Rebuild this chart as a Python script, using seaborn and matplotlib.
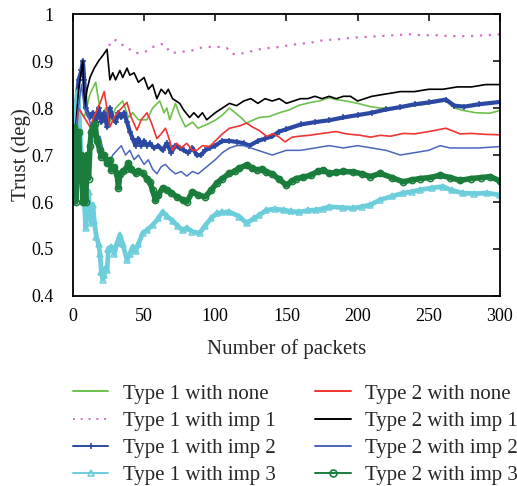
import matplotlib
matplotlib.use("Agg")
import matplotlib.pyplot as plt
from matplotlib.lines import Line2D
import seaborn as sns
import pandas as pd

# ---------------- data ----------------
t1_none = [(0,0.70),(4,0.80),(8,0.78),(12,0.83),(16,0.855),(20,0.78),(23,0.80),(26,0.77),(30,0.80),
           (35,0.815),(39,0.78),(42,0.79),(46,0.775),(52,0.775),(56,0.80),(61,0.815),(64,0.79),(66,0.80),
           (68,0.775),(72,0.81),(75,0.785),(79,0.76),(84,0.77),(88,0.757),(94,0.765),(100,0.774),(105,0.785),
           (110,0.80),(114,0.79),(118,0.78),(122,0.768),(127,0.775),(131,0.78),(138,0.782),(145,0.79),
           (152,0.796),(159,0.806),(167,0.812),(173,0.815),(180,0.822),(185,0.818),(192,0.815),(200,0.81),
           (209,0.803),(216,0.80),(225,0.80),(235,0.803),(245,0.807),(255,0.812),(262,0.815),(268,0.80),
           (274,0.795),(283,0.79),(293,0.789),(300,0.795)]

t1_imp1 = [(25,0.935),(28,0.934),(30,0.945),(33,0.941),(36,0.93),(40,0.925),(43,0.917),(47,0.917),
           (51,0.92),(54,0.928),(58,0.932),(62,0.936),(65,0.935),(68,0.918),(72,0.918),(77,0.92),(83,0.922),
           (89,0.928),(95,0.93),(103,0.93),(108,0.928),(112,0.915),(117,0.915),(124,0.92),(131,0.925),
           (138,0.928),(145,0.93),(152,0.934),(160,0.937),(167,0.939),(173,0.943),(178,0.945),(185,0.946),
           (197,0.95),(210,0.952),(225,0.955),(237,0.957),(245,0.955),(256,0.955),(265,0.953),(279,0.953),
           (290,0.955),(300,0.957)]

t1_imp2 = [(0,0.70),(2,0.80),(4,0.86),(6,0.88),(7,0.90),(8,0.86),(9,0.80),(11,0.785),(12,0.78),(14,0.79),
           (16,0.77),(18,0.80),(20,0.77),(22,0.79),(24,0.76),(26,0.80),(28,0.78),(30,0.77),(32,0.79),
           (34,0.78),(36,0.79),(38,0.77),(40,0.75),(42,0.735),(44,0.72),(46,0.735),(48,0.72),(50,0.73),
           (52,0.72),(54,0.725),(57,0.715),(60,0.72),(63,0.71),(66,0.725),(69,0.705),(72,0.72),(75,0.715),
           (78,0.71),(81,0.705),(84,0.715),(87,0.70),(90,0.70),(93,0.71),(96,0.715),(100,0.72),(105,0.73),
           (110,0.73),(115,0.728),(120,0.725),(124,0.72),(130,0.73),(135,0.735),(140,0.74),(145,0.75),
           (150,0.755),(160,0.765),(170,0.77),(180,0.774),(190,0.78),(200,0.785),(210,0.79),(220,0.797),
           (230,0.802),(240,0.808),(250,0.812),(262,0.818),(268,0.805),(275,0.803),(285,0.808),(300,0.813)]

t1_imp3 = [(0,0.75),(2,0.80),(3.5,0.835),(5,0.75),(6,0.70),(7,0.66),(8,0.60),(9,0.545),(10,0.60),
           (11,0.622),(12,0.57),(13,0.555),(14,0.594),(15,0.56),(16.5,0.526),(18,0.51),(19,0.49),(20,0.45),
           (21,0.435),(22,0.445),(23,0.46),(24,0.455),(25,0.50),(27,0.505),(29,0.49),(31,0.512),(33,0.53),
           (35,0.51),(38,0.477),(40,0.49),(42,0.505),(44,0.495),(46,0.51),(49,0.534),(52,0.54),(56,0.551),
           (60,0.565),(63,0.579),(66,0.57),(70,0.56),(74,0.548),(77,0.54),(80,0.545),(84,0.537),(89,0.534),
           (93,0.55),(97,0.565),(101,0.576),(105,0.578),(110,0.579),(117,0.569),(122,0.555),(127,0.565),
           (131,0.572),(136,0.583),(142,0.585),(148,0.583),(153,0.58),(159,0.579),(165,0.582),(171,0.583),
           (176,0.586),(180,0.59),(190,0.588),(197,0.587),(203,0.59),(209,0.594),(216,0.605),(224,0.612),
           (232,0.619),(238,0.622),(244,0.626),(252,0.63),(260,0.633),(266,0.625),(274,0.619),(282,0.618),
           (291,0.619),(300,0.615)]

t2_none = [(0,0.66),(4,0.80),(8,0.78),(12,0.76),(16,0.79),(19,0.81),(22,0.835),(26,0.76),(29,0.78),
           (33,0.796),(38,0.812),(41,0.78),(45,0.753),(48,0.775),(52,0.79),(55,0.77),(59,0.735),(62,0.745),
           (65,0.757),(67,0.74),(70,0.71),(73,0.725),(76,0.715),(80,0.725),(84,0.71),(87,0.71),(91,0.72),
           (96,0.718),(100,0.73),(105,0.745),(110,0.757),(117,0.762),(122,0.768),(126,0.76),(131,0.752),
           (136,0.74),(141,0.745),(145,0.738),(149,0.728),(154,0.738),(159,0.74),(166,0.742),(173,0.745),
           (180,0.748),(185,0.75),(192,0.745),(202,0.742),(209,0.738),(216,0.742),(223,0.74),(232,0.746),
           (240,0.745),(250,0.75),(262,0.757),(268,0.75),(272,0.745),(280,0.746),(290,0.744),(300,0.743)]

t2_imp1 = [(0,0.66),(2,0.76),(4,0.84),(6,0.88),(7,0.90),(8,0.80),(10,0.84),(12,0.865),(15,0.885),
           (18,0.90),(21,0.912),(24,0.925),(26,0.86),(28,0.875),(30,0.86),(33,0.88),(35,0.865),(38,0.885),
           (40,0.87),(43,0.875),(46,0.855),(50,0.865),(53,0.84),(56,0.85),(59,0.82),(62,0.84),(65,0.83),
           (67,0.84),(70,0.82),(75,0.81),(78,0.795),(82,0.78),(85,0.79),(88,0.78),(91,0.79),(94,0.775),
           (100,0.79),(105,0.80),(110,0.81),(115,0.805),(120,0.815),(125,0.82),(130,0.81),(135,0.82),
           (140,0.815),(145,0.82),(150,0.81),(155,0.815),(160,0.82),(165,0.82),(170,0.825),(175,0.82),
           (180,0.825),(185,0.82),(190,0.825),(195,0.825),(200,0.815),(205,0.82),(210,0.825),(220,0.83),
           (230,0.835),(240,0.835),(250,0.84),(260,0.84),(270,0.845),(280,0.845),(290,0.85),(300,0.85)]

t2_imp2 = [(0,0.70),(3,0.78),(6,0.85),(8,0.80),(10,0.79),(13,0.76),(16,0.73),(19,0.74),(22,0.70),
           (25,0.68),(28,0.70),(31,0.71),(34,0.72),(37,0.70),(40,0.71),(43,0.69),(46,0.70),(50,0.68),
           (53,0.69),(56,0.67),(59,0.66),(62,0.675),(65,0.68),(68,0.67),(72,0.66),(76,0.665),(80,0.655),
           (84,0.665),(88,0.66),(92,0.67),(96,0.68),(100,0.69),(105,0.705),(110,0.715),(115,0.72),
           (120,0.72),(125,0.715),(130,0.71),(135,0.705),(140,0.70),(145,0.705),(150,0.71),(160,0.71),
           (170,0.715),(180,0.72),(190,0.715),(200,0.72),(210,0.715),(220,0.71),(230,0.70),(240,0.705),
           (250,0.71),(258,0.72),(265,0.715),(275,0.715),(285,0.715),(300,0.718)]

t2_imp3 = [(0,0.66),(1,0.76),(2,0.60),(3,0.66),(4,0.75),(5,0.66),(6,0.70),(7,0.60),(8,0.66),(9,0.60),
           (10,0.70),(11,0.65),(12,0.72),(13,0.75),(14,0.76),(15.5,0.765),(17,0.73),(19,0.71),(20,0.696),
           (22,0.70),(24,0.682),(26,0.69),(27,0.668),(29,0.675),(31,0.66),(32,0.63),(33,0.66),(35,0.665),
           (37,0.67),(39,0.682),(41,0.67),(44,0.661),(46,0.665),(49,0.661),(52,0.65),(54,0.643),(56,0.625),
           (58,0.604),(60,0.615),(63,0.63),(66,0.626),(69,0.62),(73,0.611),(77,0.605),(80,0.60),(84,0.622),
           (88,0.615),(93,0.611),(97,0.625),(101,0.64),(105,0.65),(110,0.661),(114,0.666),(117,0.672),
           (122,0.679),(126,0.672),(129,0.668),(133,0.67),(136,0.664),(140,0.66),(145,0.648),(150,0.636),
           (154,0.645),(157,0.65),(162,0.653),(167,0.657),(172,0.665),(176,0.668),(180,0.661),(185,0.663),
           (190,0.665),(197,0.664),(203,0.66),(209,0.654),(216,0.661),(224,0.652),(232,0.643),(238,0.647),
           (244,0.65),(251,0.652),(258,0.657),(265,0.652),(272,0.646),(280,0.65),(287,0.652),(293,0.654),
           (300,0.645)]

labels = ["Type 1 with none", "Type 1 with imp 1", "Type 1 with imp 2", "Type 1 with imp 3",
          "Type 2 with none", "Type 2 with imp 1", "Type 2 with imp 2", "Type 2 with imp 3"]
series = [t1_none, t1_imp1, t1_imp2, t1_imp3, t2_none, t2_imp1, t2_imp2, t2_imp3]
yticks = [0.4, 0.5, 0.6, 0.7, 0.8, 0.9, 1.0]
ytick_labels = ["0.4", "0.5", "0.6", "0.7", "0.8", "0.9", "1"]
xticks = [0, 50, 100, 150, 200, 250, 300]

# ---------------- styles ----------------
styles = [
    dict(color="#6cc24a", lw=1.2, ls="-", marker=None),
    dict(color="#d070c4", lw=1.6, ls=(0, (1, 3)), marker=None),
    dict(color="#2b48a3", lw=3.0, ls="-", marker="+", ms=5, mew=1.1, mfc="#2b48a3"),
    dict(color="#6ccedb", lw=3.4, ls="-", marker="^", ms=5, mew=1.1, mfc="none"),
    dict(color="#f03535", lw=1.2, ls="-", marker=None),
    dict(color="#000000", lw=1.2, ls="-", marker=None),
    dict(color="#4a66bb", lw=1.1, ls="-", marker=None),
    dict(color="#1a7d3c", lw=4.0, ls="-", marker="o", ms=4.5, mew=1.1, mfc="none"),
]

sns.set_theme(style="white")
plt.rcParams["font.family"] = ["Liberation Serif", "DejaVu Serif"]

fig = plt.figure(figsize=(5.17, 4.86), dpi=100)
ax = fig.add_axes([0.141, 0.391, 0.826, 0.580])

for lab, data, st in zip(labels, series, styles):
    df = pd.DataFrame(data, columns=["packets", "trust"])
    kw = dict(color=st["color"], linewidth=st["lw"], linestyle=st["ls"])
    if st["marker"]:
        kw.update(marker=st["marker"], markersize=st["ms"], markeredgewidth=st["mew"],
                  markerfacecolor=st["mfc"], markeredgecolor=st["color"])
    sns.lineplot(data=df, x="packets", y="trust", ax=ax, sort=False, estimator=None,
                 legend=False, **kw)

ax.set_xlim(0, 300)
ax.set_ylim(0.4, 1.0)
ax.set_xticks(xticks)
ax.set_yticks(yticks)
ax.set_yticklabels(ytick_labels)
ax.tick_params(direction="in", top=True, right=True, length=5, width=1.1,
               labelsize=13, colors="black")
ax.tick_params(axis="x", pad=9)
ax.tick_params(axis="y", pad=14)
for sp in ax.spines.values():
    sp.set_color("black")
    sp.set_linewidth(1.3)
ax.set_xlabel("Number of packets", fontsize=15, labelpad=10)
ax.set_ylabel("Trust (deg)", fontsize=15, labelpad=0)

handles = []
for st in styles:
    h = Line2D([], [], color=st["color"], linewidth=1.4, linestyle=st["ls"])
    if st["marker"]:
        h.set_marker(st["marker"]); h.set_markersize(5); h.set_markeredgewidth(1.2)
        h.set_markerfacecolor(st["mfc"]); h.set_markeredgecolor(st["color"])
    handles.append(h)

fig.legend(handles, labels, ncol=2, loc="upper left", bbox_to_anchor=(0.141, 0.21),
           frameon=False, fontsize=15, handlelength=1.7, handletextpad=0.7,
           columnspacing=1.9, labelspacing=0.37, borderpad=0, borderaxespad=0,
           numpoints=1)

fig.savefig("out.png", dpi=100)
